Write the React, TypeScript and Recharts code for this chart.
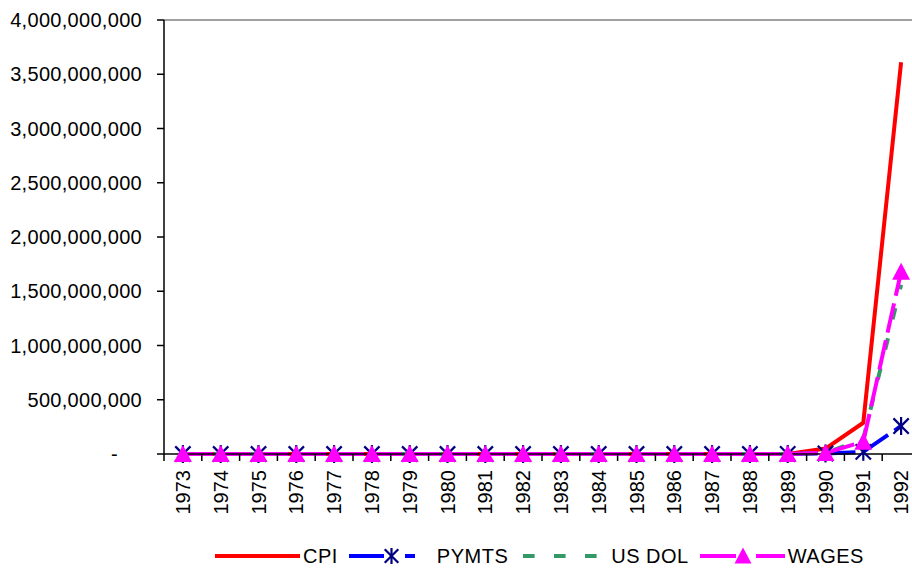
import { LineChart, Line, XAxis, YAxis, ReferenceLine } from "recharts";

const years = [
  "1973", "1974", "1975", "1976", "1977", "1978", "1979", "1980", "1981", "1982",
  "1983", "1984", "1985", "1986", "1987", "1988", "1989", "1990", "1991", "1992",
];

// values (everything before 1990 sits on the zero line)
const cpi = [
  0.2, 0.3, 0.4, 0.6, 0.9, 1.3, 2, 4, 8, 16,
  40, 130, 420, 1000, 3300, 25000, 900000, 50000000, 288000000, 3610000000,
];
const pymts = [
  0.1, 0.2, 0.3, 0.4, 0.6, 0.9, 1.5, 3, 6, 12,
  28, 90, 300, 800, 2500, 18000, 400000, 5000000, 20000000, 258000000,
];
const usDol = [
  0.1, 0.1, 0.2, 0.3, 0.4, 0.6, 1, 1.8, 4, 9,
  25, 80, 260, 700, 2000, 15000, 600000, 8000000, 140000000, 1560000000,
];
const wages = [
  0.1, 0.2, 0.3, 0.4, 0.5, 0.8, 1.3, 2.5, 5, 11,
  30, 100, 330, 850, 2800, 20000, 700000, 10000000, 113000000, 1680000000,
];
const yTicks = [
  0, 500000000, 1000000000, 1500000000, 2000000000,
  2500000000, 3000000000, 3500000000, 4000000000,
];

const data = years.map((year, i) => ({
  year,
  cpi: cpi[i],
  pymts: pymts[i],
  usDol: usDol[i],
  wages: wages[i],
}));

const FONT = "'Liberation Sans', Arial, sans-serif";
const NAVY = "#000080";

function YTick({ x, y, payload }: any) {
  const v = payload.value as number;
  const label = v === 0 ? "-" : v.toLocaleString("en-US");
  return (
    <text
      x={v === 0 ? x - 24 : x}
      y={y}
      dy="0.35em"
      textAnchor="end"
      fontSize={20}
      letterSpacing={0.3}
      fontFamily={FONT}
      fill="#000"
    >
      {label}
    </text>
  );
}

function XTick({ x, y, payload, index }: any) {
  const off = payload.offset ?? 0;
  const axisY = y - 16;
  return (
    <g>
      {index === 0 && (
        <line x1={x - off} x2={x - off} y1={axisY} y2={axisY + 7} stroke="#000" strokeWidth={1.5} />
      )}
      <line x1={x + off} x2={x + off} y1={axisY} y2={axisY + 7} stroke="#000" strokeWidth={1.5} />
      <text
        x={x}
        y={y}
        dy="0.35em"
        textAnchor="end"
        fontSize={20}
        fontFamily={FONT}
        fill="#000"
        transform={`rotate(-90, ${x}, ${y})`}
      >
        {payload.value}
      </text>
    </g>
  );
}

function Star({ cx, cy, s = 9 }: any) {
  if (cx == null || cy == null) return null;
  const d = s * 0.85;
  return (
    <g stroke={NAVY} strokeWidth={2.2}>
      <line x1={cx - d} y1={cy - d} x2={cx + d} y2={cy + d} />
      <line x1={cx - d} y1={cy + d} x2={cx + d} y2={cy - d} />
      <line x1={cx} y1={cy - s} x2={cx} y2={cy + s} />
    </g>
  );
}

function Triangle({ cx, cy, w = 9, h = 9 }: any) {
  if (cx == null || cy == null) return null;
  return (
    <polygon
      points={`${cx},${cy - h} ${cx - w},${cy + h - 1} ${cx + w},${cy + h - 1}`}
      fill="#FF00FF"
    />
  );
}

const legendItems = [
  { name: "CPI", key: "cpi" },
  { name: "PYMTS", key: "pymts" },
  { name: "US DOL", key: "usDol" },
  { name: "WAGES", key: "wages" },
];

function LegendSymbol({ k }: { k: string }) {
  return (
    <svg width={85} height={20} style={{ display: "block" }}>
      {k === "cpi" && <line x1={0} x2={85} y1={10} y2={10} stroke="#FF0000" strokeWidth={4} />}
      {k === "pymts" && (
        <g>
          <line x1={0} x2={35} y1={10} y2={10} stroke="#0000FF" strokeWidth={4} />
          <line x1={56} x2={66} y1={10} y2={10} stroke="#0000FF" strokeWidth={4} />
          <Star cx={42.5} cy={10} s={8} />
        </g>
      )}
      {k === "usDol" && (
        <line x1={0} x2={85} y1={10} y2={10} stroke="#339966" strokeWidth={4} strokeDasharray="11.6 19.4" />
      )}
      {k === "wages" && (
        <g>
          <line x1={0} x2={36} y1={10} y2={10} stroke="#FF00FF" strokeWidth={4} />
          <line x1={56} x2={85} y1={10} y2={10} stroke="#FF00FF" strokeWidth={4} />
          <Triangle cx={43} cy={10} w={8.5} h={8.5} />
        </g>
      )}
    </svg>
  );
}

export default function App() {
  return (
    <div
      style={{
        position: "absolute",
        left: 0,
        top: 0,
        width: 912,
        height: 572,
        overflow: "hidden",
        background: "#fff",
        fontFamily: FONT,
      }}
    >
      <LineChart width={920} height={530} data={data} margin={{ top: 20, right: 0, left: 0, bottom: 0 }}>
        <XAxis
          dataKey="year"
          scale="band"
          interval={0}
          height={76}
          tickSize={7}
          tickMargin={9}
          tickLine={false}
          tick={<XTick />}
          axisLine={{ stroke: "#000", strokeWidth: 1.5 }}
        />
        <YAxis
          type="number"
          domain={[0, 4000000000]}
          ticks={yTicks}
          interval={0}
          width={164}
          tickSize={7}
          tickMargin={15}
          tick={<YTick />}
          tickLine={{ stroke: "#000", strokeWidth: 1.5 }}
          axisLine={{ stroke: "#000", strokeWidth: 1.5 }}
        />
        <ReferenceLine y={4000000000} stroke="#808080" strokeWidth={1.5} />
        <Line
          dataKey="cpi"
          type="linear"
          stroke="#FF0000"
          strokeWidth={4}
          dot={false}
          isAnimationActive={false}
        />
        <Line
          dataKey="pymts"
          type="linear"
          stroke="#0000FF"
          strokeWidth={4}
          strokeDasharray="30 7.8"
          dot={<Star />}
          isAnimationActive={false}
        />
        <Line
          dataKey="usDol"
          type="linear"
          stroke="#339966"
          strokeWidth={4}
          strokeDasharray="11.6 19.4"
          dot={false}
          isAnimationActive={false}
        />
        <Line
          dataKey="wages"
          type="linear"
          stroke="#FF00FF"
          strokeWidth={4}
          strokeDasharray="30 7.8"
          dot={<Triangle />}
          isAnimationActive={false}
        />
      </LineChart>
      <div
        style={{
          position: "absolute",
          left: 215,
          top: 545,
          display: "flex",
          alignItems: "center",
          height: 22,
        }}
      >
        {legendItems.map((item, i) => (
          <div key={item.key} style={{ display: "flex", alignItems: "center", marginRight: i === 1 ? 15 : 11 }}>
            <LegendSymbol k={item.key} />
            <span style={{ fontSize: 20, marginLeft: 3, letterSpacing: 0.5, color: "#000", lineHeight: "22px" }}>
              {item.name}
            </span>
          </div>
        ))}
      </div>
    </div>
  );
}
